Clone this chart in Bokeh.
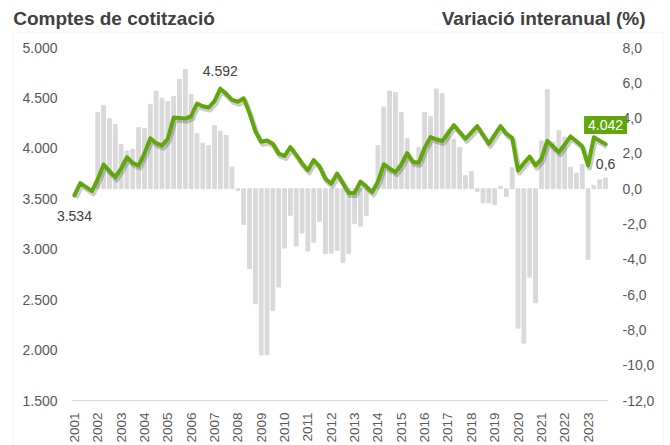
import numpy as np
from bokeh.plotting import figure
from bokeh.models import (Range1d, LinearAxis, FixedTicker, Label, BoxAnnotation,
                          ColumnDataSource)
from bokeh.transform import dodge
from bokeh.embed import file_html
from bokeh.resources import INLINE

# ---------------- data ----------------
years = [str(y) for y in range(2001, 2024)]

accounts = [
    3534, 3655, 3615, 3575,   # 2001
    3695, 3840, 3775, 3714,   # 2002
    3800, 3912, 3855, 3830,   # 2003
    3950, 4100, 4051, 4028,   # 2004
    4095, 4305, 4300, 4295,   # 2005
    4320, 4445, 4418, 4405,   # 2006
    4468, 4592, 4541, 4480,   # 2007
    4462, 4497, 4350, 4170,   # 2008
    4065, 4078, 4045, 3948,   # 2009
    3925, 4012, 3935, 3850,   # 2010
    3783, 3884, 3820, 3698,   # 2011
    3649, 3750, 3655, 3557,   # 2012
    3558, 3670, 3623, 3565,   # 2013
    3670, 3843, 3800, 3764,   # 2014
    3840, 3952, 3865, 3858,   # 2015
    4005, 4111, 4090, 4072,   # 2016
    4150, 4230, 4162, 4095,   # 2017
    4157, 4220, 4134, 4045,   # 2018
    4134, 4220, 4145, 4103,   # 2019
    3780, 3853, 3919, 3830,   # 2020
    3895, 4075, 4020, 3962,   # 2021
    4040, 4118, 4070, 4020,   # 2022
    3830, 4110, 4075, 4042,   # 2023
]

variation = [
    None, None, None, None,       # 2001
    4.31, 4.72, 3.97, 3.64,       # 2002
    2.51, 2.13, 2.23, 3.46,       # 2003
    3.40, 4.78, 5.53, 5.13,       # 2004
    4.95, 5.23, 6.19, 6.76,       # 2005
    5.34, 3.12, 2.58, 2.45,       # 2006
    3.57, 3.26, 3.02, 1.22,       # 2007
    -0.10, -2.02, -4.53, -6.52,   # 2008
    -9.42, -9.40, -6.90, -5.57,   # 2009
    -3.36, -1.51, -3.25, -2.51,   # 2010
    -3.53, -3.02, -1.85, -3.68,   # 2011
    -3.65, -3.50, -4.19, -3.68,   # 2012
    -1.98, -2.12, -1.51, -0.20,   # 2013
    2.45, 4.62, 5.53, 5.44,       # 2014
    4.31, 2.85, 1.50, 2.32,       # 2015
    4.31, 4.08, 5.65, 5.38,       # 2016
    3.36, 2.80, 2.34, 0.75,       # 2017
    0.98, -0.15, -0.80, -0.80,    # 2018
    -0.91, 0.13, -0.44, 1.19,     # 2019
    -7.90, -8.75, -5.01, -6.46,   # 2020
    2.70, 5.61, 2.64, 3.30,       # 2021
    2.92, 1.22, 0.88, 1.38,       # 2022
    -4.00, 0.19, 0.50, 0.60,      # 2023
]

left_ticks = [1500, 2000, 2500, 3000, 3500, 4000, 4500, 5000]
left_labels = ["1.500", "2.000", "2.500", "3.000", "3.500", "4.000", "4.500", "5.000"]
right_ticks = [-12, -10, -8, -6, -4, -2, 0, 2, 4, 6, 8]
right_labels = ["-12,0", "-10,0", "-8,0", "-6,0", "-4,0", "-2,0", "0,0", "2,0", "4,0", "6,0", "8,0"]

title_left = "Comptes de cotització"
title_right = "Variació interanual (%)"

# ---------------- layout / styles ----------------
W, H = 670, 445                    # canvas
PL, PR, PT, PB = 71, 608, 47, 400  # plot area (px)
BOX_L, BOX_R, BOX_T = 12.7, 662.7, 31.7   # outer chart frame (px)

GREEN = "#62a60e"
BAR = "#d9d9d9"
TXT = "#595959"
DARK = "#404040"
FONT = "Liberation Sans"

n = len(accounts)
x_lo, x_hi = -0.5, n - 0.5
xpp = (x_hi - x_lo) / (PR - PL)
y_lo, y_hi = left_ticks[0], left_ticks[-1]
ypp = (y_hi - y_lo) / (PB - PT)
r_lo, r_hi = right_ticks[0], right_ticks[-1]
rpp = (r_hi - r_lo) / (PB - PT)

def px_x(px):
    return x_lo + (px - PL) * xpp

def px_y(py):
    return y_hi - (py - PT) * ypp

idx = list(range(n))
line_src = ColumnDataSource(dict(x=idx, y=accounts))
bx = [i for i, v in enumerate(variation) if v is not None]
bar_src = ColumnDataSource(dict(x=bx, top=[variation[i] for i in bx]))

p = figure(width=W, height=H,
           x_range=Range1d(px_x(0), px_x(W)),
           y_range=Range1d(px_y(H), px_y(0)),
           output_backend="svg", toolbar_location=None,
           min_border=0, x_axis_location=None, y_axis_location=None)
p.extra_y_ranges = {"pct": Range1d(r_hi - (H - PT) * rpp, r_hi + PT * rpp)}
p.title.visible = False
p.outline_line_color = None
p.xgrid.visible = False
p.ygrid.visible = False
p.background_fill_color = "white"
p.border_fill_color = "white"

def style_axis(ax, standoff, size="14px"):
    ax.axis_line_color = None
    ax.major_tick_line_color = None
    ax.minor_tick_line_color = None
    ax.major_tick_out = 0
    ax.major_tick_in = 0
    ax.minor_tick_out = 0
    ax.minor_tick_in = 0
    ax.major_label_standoff = standoff
    ax.major_label_text_font = FONT
    ax.major_label_text_font_size = size
    ax.major_label_text_color = TXT

# left axis (fixed at plot-area left edge)
la = LinearAxis(fixed_location=x_lo, ticker=FixedTicker(ticks=left_ticks))
la.major_label_overrides = {t: l for t, l in zip(left_ticks, left_labels)}
style_axis(la, 14)
p.add_layout(la, "left")

# right axis
ra = LinearAxis(fixed_location=x_hi, y_range_name="pct", ticker=FixedTicker(ticks=right_ticks))
ra.major_label_overrides = {t: l for t, l in zip(right_ticks, right_labels)}
style_axis(ra, 14)
p.add_layout(ra, "right")

# bottom axis with year labels
xticks = [4 * k for k in range(len(years))]
xa = LinearAxis(fixed_location=y_lo, ticker=FixedTicker(ticks=xticks))
xa.major_label_overrides = {t: y for t, y in zip(xticks, years)}
xa.major_label_orientation = np.pi / 2
style_axis(xa, 12, "13.5px")
p.add_layout(xa, "below")

# baseline of the category axis
p.segment(x0=[x_lo], x1=[x_hi], y0=[y_lo], y1=[y_lo], line_color=BAR, line_width=1)

# bars
p.vbar(x="x", top="top", bottom=0, width=0.65, source=bar_src,
       color=BAR, y_range_name="pct")

# line shadow + line
p.line(x=dodge("x", 0.25), y=dodge("y", -25), source=line_src,
       line_width=5, color="black", alpha=0.2, line_join="round")
p.line(x="x", y="y", source=line_src, line_width=4, color=GREEN,
       line_join="round", line_cap="round")

# data labels
def fmt_int(v):
    return f"{v:,}".replace(",", ".")

imax = int(np.argmax(accounts))
p.add_layout(Label(x=0, y=accounts[0], text=fmt_int(accounts[0]), y_offset=-21,
                   text_align="center", text_baseline="middle", text_font=FONT,
                   text_font_size="14px", text_color=DARK))
p.add_layout(Label(x=imax, y=accounts[imax], text=fmt_int(accounts[imax]), y_offset=18,
                   text_align="center", text_baseline="middle", text_font=FONT,
                   text_font_size="14px", text_color=DARK))
p.add_layout(Label(x=n - 1, y=accounts[-1], text=fmt_int(accounts[-1]), y_offset=19,
                   text_align="center", text_baseline="middle", text_font=FONT,
                   text_font_size="14px", text_color="white",
                   background_fill_color=GREEN, padding=4))
p.add_layout(Label(x=n - 1, y=variation[-1], text=f"{variation[-1]:.1f}".replace(".", ","),
                   y_range_name="pct", y_offset=14,
                   text_align="center", text_baseline="middle", text_font=FONT,
                   text_font_size="14px", text_color=DARK))

# titles
p.add_layout(Label(x=px_x(BOX_L), y=px_y(18), text=title_left,
                   text_align="left", text_baseline="middle", text_font=FONT,
                   text_font_size="19px", text_font_style="bold", text_color=DARK))
p.add_layout(Label(x=px_x(645), y=px_y(18), text=title_right,
                   text_align="right", text_baseline="middle", text_font=FONT,
                   text_font_size="19px", text_font_style="bold", text_color=DARK))

# outer chart frame
p.add_layout(BoxAnnotation(left=px_x(BOX_L), right=px_x(BOX_R),
                           top=px_y(BOX_T), bottom=px_y(H + 20),
                           fill_alpha=0, line_color=BAR, line_width=1))

open("out.html", "w").write(file_html(p, INLINE))
